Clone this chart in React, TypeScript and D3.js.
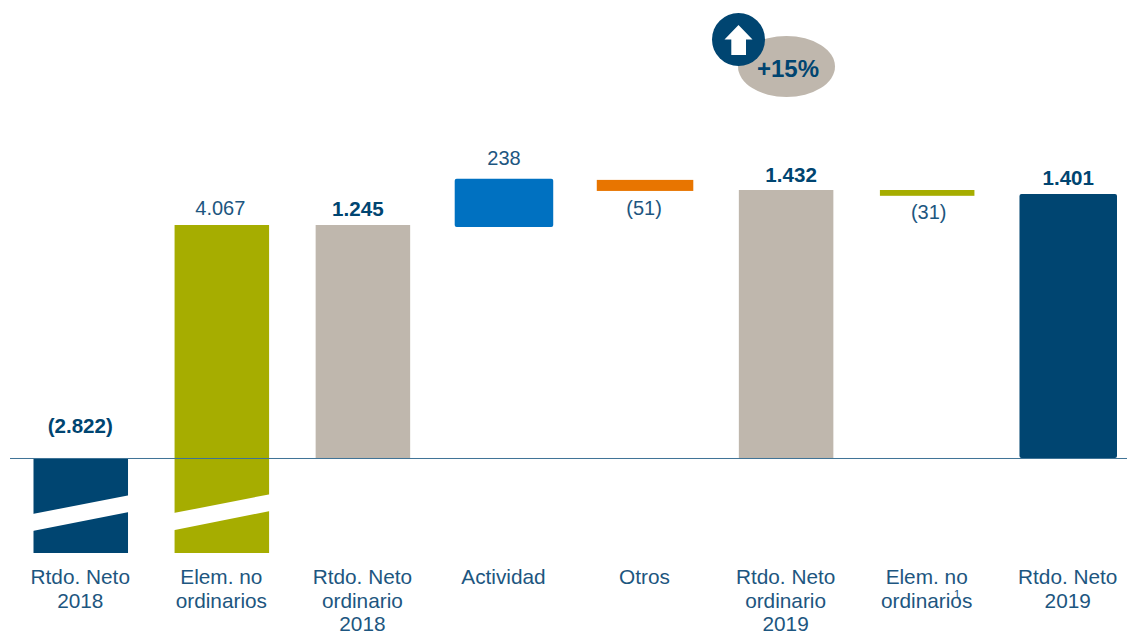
import React, { useEffect, useRef } from "react";
import * as d3 from "d3";

// categories, one entry per line of the label
const categories = [
    ["Rtdo. Neto", "2018"],
    ["Elem. no", "ordinarios"],
    ["Rtdo. Neto", "ordinario", "2018"],
    ["Actividad"],
    ["Otros"],
    ["Rtdo. Neto", "ordinario", "2019"],
    ["Elem. no", "ordinarios"],
    ["Rtdo. Neto", "2019"],
];

// bar extents as drawn in the picture (the first two bars are cut short by the break)
const barHigh = [0, 1245, 1245, 1492, 1486, 1432, 1432, 1410];
const barLow = [-507, -507, 0, 1235, 1427, 0, 1401, 0];
const valueLabels = ["(2.822)", "4.067", "1.245", "238", "(51)", "1.432", "(31)", "1.401"];
const boldLabels = [true, false, true, false, false, true, false, true];
const barColors = ["#004571", "#a6ad00", "#bfb7ad", "#0071c1", "#e87500", "#bfb7ad", "#a6ad00", "#004571"];

// break in the two cut bars: value at left edge and right edge, upper and lower side
const breakBars = [0, 1];
const breakUpperLeft = [-299, -294];
const breakUpperRight = [-198, -193];
const breakLowerLeft = [-390, -385];
const breakLowerRight = [-288, -283];

const W = 1127;
const H = 631;
const TEXT = "#1d5680";
const DARK = "#004571";
const FONT = "'Liberation Sans', Arial, sans-serif";

const App = () => {
    const svgRef = useRef<SVGSVGElement>(null);

    useEffect(() => {
        const svg = d3.select(svgRef.current);
        svg.selectAll("*").remove();

        const idx = categories.map((_, i) => i);
        const x = d3.scaleBand<number>().domain(idx).range([33.5, 1115.5]).paddingInner(0.33);
        const y = d3.scaleLinear().domain([-507, 1432]).range([553, 190]);
        const mid = (i: number) => x(i)! + x.bandwidth() / 2;

        // per bar tweaks: a few bars are a little wider, two have soft corners
        const extra = [0, 0, 0, 2, 1, 0, 0, 1.5];
        const radius = [0, 0, 0, 2, 0, 0, 0, 2];

        svg.append("g")
            .selectAll("rect")
            .data(idx)
            .join("rect")
            .attr("x", i => x(i)! - extra[i])
            .attr("y", i => y(barHigh[i]))
            .attr("width", i => x.bandwidth() + 2 * extra[i])
            .attr("height", i => y(barLow[i]) - y(barHigh[i]))
            .attr("rx", i => radius[i])
            .attr("fill", i => barColors[i]);

        // white slanted break across the tall bars
        const breakLine = d3.line<number[]>().x(d => d[0]).y(d => d[1]);
        svg.append("g")
            .selectAll("path")
            .data(breakBars)
            .join("path")
            .attr("fill", "#fff")
            .attr("d", i => {
                const x0 = x(i)!;
                const x1 = x0 + x.bandwidth();
                return breakLine([
                    [x0 - 1, y(breakUpperLeft[i])],
                    [x1 + 1, y(breakUpperRight[i])],
                    [x1 + 1, y(breakLowerRight[i])],
                    [x0 - 1, y(breakLowerLeft[i])],
                ]) + "Z";
            });

        // zero line
        svg.append("line")
            .attr("x1", 10)
            .attr("x2", W)
            .attr("y1", y(0) + 0.4)
            .attr("y2", y(0) + 0.4)
            .attr("stroke", "#3f7396")
            .attr("stroke-width", 1);

        // value labels, above the bars except the two negative steps
        const gap = [25, 10, 9, 14, -24.5, 8, -23, 9];
        const nudge = [-0.5, -1.5, -5, 0, -1, 5, 1.5, 0];
        svg.append("g")
            .selectAll("text")
            .data(idx)
            .join("text")
            .attr("x", i => mid(i) + nudge[i])
            .attr("y", i => (gap[i] > 0 ? y(barHigh[i]) : y(barLow[i])) - gap[i])
            .attr("text-anchor", "middle")
            .attr("font-family", FONT)
            .attr("font-size", i => (boldLabels[i] ? 20.6 : 20))
            .attr("font-weight", i => (boldLabels[i] ? 700 : 400))
            .attr("fill", i => (boldLabels[i] ? DARK : TEXT))
            .text(i => valueLabels[i]);

        // category labels
        const labels = svg.append("g")
            .selectAll("text")
            .data(idx)
            .join("text")
            .attr("text-anchor", "middle")
            .attr("font-family", FONT)
            .attr("font-size", 20.8)
            .attr("fill", TEXT);
        labels.selectAll("tspan")
            .data(i => categories[i].map(line => ({ i, line })))
            .join("tspan")
            .attr("x", d => mid(d.i) - 0.5)
            .attr("y", (d, k) => 584 + k * 23.5)
            .text(d => d.line);

        // stray slide number
        svg.append("text")
            .attr("x", 957)
            .attr("y", 598)
            .attr("text-anchor", "middle")
            .attr("font-family", FONT)
            .attr("font-size", 11)
            .attr("fill", TEXT)
            .text("1");

        // +15% badge
        svg.append("ellipse")
            .attr("cx", 786.5)
            .attr("cy", 66.5)
            .attr("rx", 48.5)
            .attr("ry", 30.5)
            .attr("fill", "#bfb7ad");
        svg.append("text")
            .attr("x", 788)
            .attr("y", 76.5)
            .attr("text-anchor", "middle")
            .attr("font-family", FONT)
            .attr("font-size", 24)
            .attr("font-weight", 700)
            .attr("fill", DARK)
            .text("+15%");
        svg.append("circle")
            .attr("cx", 738.5)
            .attr("cy", 39.5)
            .attr("r", 26.5)
            .attr("fill", DARK);
        svg.append("path")
            .attr("fill", "#fff")
            .attr("d", breakLine([
                [738.5, 25],
                [752.5, 39.5],
                [746, 39.5],
                [746, 55],
                [731.3, 55],
                [731.3, 39.5],
                [724.5, 39.5],
            ]) + "Z");
    }, []);

    return (
        <svg
            ref={svgRef}
            width={W}
            height={H}
            style={{ position: "absolute", left: 0, top: 0, background: "#fff" }}
        ></svg>
    );
};

export default App;
